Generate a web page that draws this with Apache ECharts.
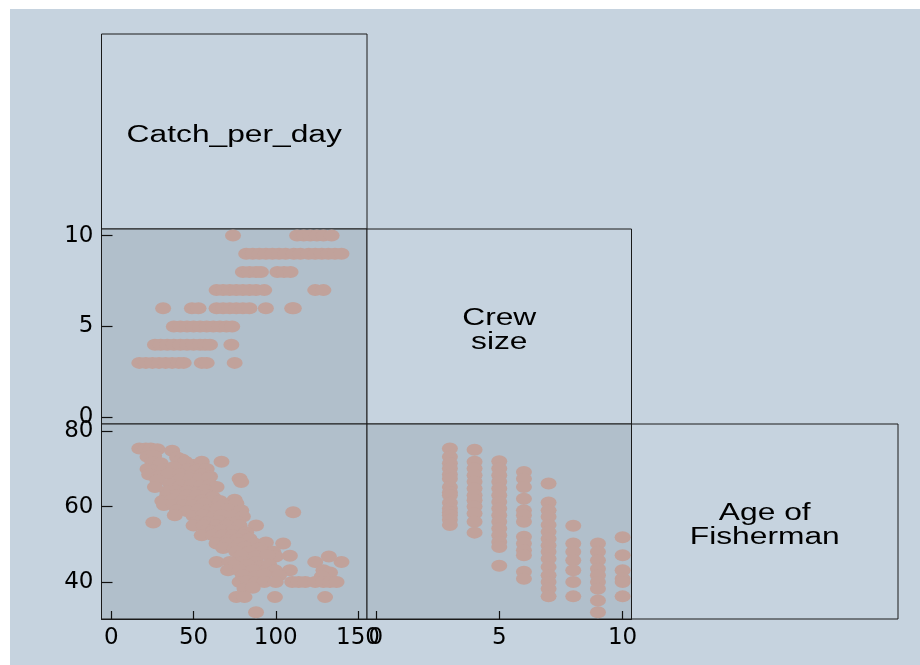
<!DOCTYPE html>
<html>
<head>
<meta charset="utf-8">
<script src="https://cdn.jsdelivr.net/npm/echarts@6/dist/echarts.min.js"></script>
<style>
  html, body { margin: 0; padding: 0; background: #fff; }
  #chart { position: absolute; left: 10px; top: 9px; width: 910px; height: 656px; }
</style>
</head>
<body>
<div id="chart"></div>
<script>
// variable names shown on the diagonal
const varLabels = ['Catch_per_day', 'Crew\nsize', 'Age of\nFisherman']

// tick values per variable
const catchTicks = [0, 50, 100, 150]
const crewTicks = [0, 5, 10]
const ageTicks = [40, 60, 80]

// [catch, crew]
const crewVsCatch = [
  [74, 10], [113, 10], [117, 10], [121, 10], [125, 10], [129, 10], [134, 10],
  [82, 9], [86, 9], [90, 9], [94, 9], [98, 9], [102, 9], [106, 9], [111, 9], [115, 9],
  [120, 9], [124, 9], [128, 9], [132, 9], [136, 9], [140, 9],
  [80, 8], [84, 8], [88, 8], [91, 8], [101, 8], [105, 8], [109, 8],
  [64, 7], [68, 7], [72, 7], [76, 7], [80, 7], [84, 7], [88, 7], [93, 7], [124, 7], [129, 7],
  [31.5, 6], [49, 6], [53, 6], [64, 6], [68, 6], [72, 6], [76, 6], [80, 6], [84, 6], [94, 6], [110, 6], [111, 6],
  [38, 5], [42, 5], [46, 5], [50, 5], [54, 5], [58, 5], [62, 5], [66, 5], [70, 5], [73.5, 5],
  [26.5, 4], [30, 4], [34, 4], [38, 4], [42, 4], [46, 4], [50, 4], [54, 4], [57, 4], [60, 4], [73, 4],
  [17, 3], [21, 3], [25, 3], [29, 3], [33, 3], [37, 3], [41, 3], [44, 3], [55, 3], [58, 3], [75, 3]
]

// [catch, age]
const ageVsCatch = [
  [17, 75.4], [21, 75.4], [24, 75.4], [28, 75.2], [37, 74.8],
  [22, 73.2], [26, 73.5], [40, 73], [43, 72.5],
  [25, 71.8], [30, 71.5], [45, 71.9], [50, 71], [55, 71.9], [67, 71.9],
  [22, 70], [26, 69.5], [32, 70], [38, 70.5], [47, 70], [52, 69.8], [58, 70],
  [23, 68.5], [29, 68], [35, 68.8], [42, 68.5], [48, 68.2], [55, 68.6], [60, 68],
  [28, 67], [42, 67.4], [48, 67.4], [54, 67.4], [59, 67.6], [78, 67.4], [79, 66.5],
  [36, 66], [42, 65.5], [49, 65.8], [55, 65.5], [60, 65.8], [26.5, 65.2], [64, 65.2],
  [34, 64], [40, 64.2], [46, 64], [52, 63.8], [57, 64.3],
  [34, 63], [40, 63], [46, 63], [52, 63], [58, 63], [62, 62.5],
  [31, 61.5], [37, 61.8], [43, 61.5], [49, 61.2], [55, 61.7], [60, 61.3], [66, 61.5], [75, 61.8],
  [32, 60.4], [38, 60.4], [44, 60.4], [50, 60.4], [56, 60.8], [68, 60.4], [76, 60.9],
  [40, 59], [46, 58.8], [53, 59.2], [59, 59], [64, 59], [71, 59.3], [79, 59], [110.6, 58.5],
  [38.6, 57.7], [50, 57.5], [56, 57.8], [62, 57.3], [67, 57.7], [74, 57.6], [80, 57.4],
  [25.5, 55.8], [52, 56], [58, 55.8], [65, 56.2], [72, 55.6], [77, 56],
  [50, 55], [56, 55], [64, 55], [70, 55], [78, 55], [88, 55],
  [58, 53.7], [62, 53.5], [67, 53.8], [74, 53.5], [82, 53.2],
  [55, 52.4], [62, 52.4], [68, 52.4], [74, 52.4], [80, 52.4],
  [65, 51.2], [71, 51], [77, 51.3], [84, 51.5],
  [64, 50.2], [70, 50.2], [78, 50.2], [87, 50.2], [94, 50.5], [104.5, 50.2],
  [68, 49], [75, 48.8], [81, 49.2], [90, 49],
  [76, 48], [84, 48], [92, 48], [98.5, 48], [100, 46.8], [108.6, 47],
  [79, 47], [88, 46.8], [95, 47.2],
  [64, 45.3], [72, 45.3], [80, 45.3], [88, 45.3], [124, 45.3], [140, 45.3], [132.3, 46.8],
  [75, 44.3], [83, 44.5], [91, 44.2], [96, 44.6],
  [71, 43.1], [78, 43.1], [86, 43.1], [94.4, 43.1], [99.5, 43.1], [108.6, 43.1], [129, 43.1], [133, 42.5],
  [80, 41.8], [88, 41.5], [93, 42], [102, 41.8], [128, 41.5],
  [78, 40], [83, 40.3], [88, 40], [93, 40], [100, 40], [110, 40], [114, 40], [118, 40],
  [124, 40], [129, 40], [133, 40], [137, 40],
  [81, 38.2], [86, 38.5],
  [76, 36], [81, 36], [99.5, 36], [130, 36],
  [88, 32]
]

// [crew, age]
const ageVsCrew = [
  [3, 75.4], [3, 73.2], [3, 71.5], [3, 70.1], [3, 68.5], [3, 67.4], [3, 65.2], [3, 63.8],
  [3, 63], [3, 61], [3, 59.5], [3, 58.5], [3, 57.7], [3, 56.5], [3, 55.1],
  [4, 75.1], [4, 71.9], [4, 70.1], [4, 68.3], [4, 66.6], [4, 64.8], [4, 63], [4, 61.7],
  [4, 60], [4, 58.2], [4, 56], [4, 53.1],
  [5, 72], [5, 70.1], [5, 68.3], [5, 66.6], [5, 64.8], [5, 63], [5, 61.2], [5, 59.5],
  [5, 57.7], [5, 56], [5, 54.2], [5, 52.4], [5, 50.6], [5, 49.3], [5, 44.3],
  [6, 69.2], [6, 67.4], [6, 65.2], [6, 62.1], [6, 59], [6, 57.7], [6, 56],
  [6, 52], [6, 50.2], [6, 48.4], [6, 47.1], [6, 42.7], [6, 40.9],
  [7, 66.1], [7, 61.1], [7, 59], [7, 57.3], [7, 55.1], [7, 53.3], [7, 51.5], [7, 49.7],
  [7, 48], [7, 46.2], [7, 44], [7, 41.8], [7, 40], [7, 38.2], [7, 36.2],
  [8, 54.9], [8, 50.2], [8, 48], [8, 45.8], [8, 43.1], [8, 40], [8, 36.2],
  [9, 50.2], [9, 48], [9, 45.8], [9, 43.5], [9, 41.8], [9, 40], [9, 38.2], [9, 35.1], [9, 32],
  [10, 51.9], [10, 47.1], [10, 43.1], [10, 40.9], [10, 40], [10, 36.2]
]

const PAGE_BG = '#c6d3df'
const PLOT_BG = '#b1bfcb'
const MARKER = '#c1a29b'
const FRAME = '#1a1a1a'

// panel layout (px inside the chart div)
const colLeft = [91.5, 357, 621.5]
const colWidth = [265.5, 264.5, 266.5]
const rowTop = [25, 220, 415]
const rowHeight = 195

const panel = (r, c) => ({
  left: colLeft[c],
  top: rowTop[r],
  width: colWidth[c],
  height: rowHeight,
  show: true,
  backgroundColor: r === c ? PAGE_BG : PLOT_BG,
  borderColor: FRAME,
  borderWidth: 1
})

const ranges = {
  catch: { min: -6, max: 155.5, ticks: catchTicks },
  crew: { min: -0.36, max: 10.36, ticks: crewTicks },
  age: { min: 30.2, max: 81.9, ticks: ageTicks }
}

const axis = (gridIndex, key, showLabels, tickLen) => ({
  type: 'value',
  gridIndex,
  min: ranges[key].min,
  max: ranges[key].max,
  axisLine: { show: showLabels, onZero: false, lineStyle: { color: FRAME, width: 1 } },
  splitLine: { show: false },
  axisTick: {
    show: showLabels,
    inside: true,
    length: tickLen,
    customValues: ranges[key].ticks,
    lineStyle: { color: '#111', width: 1.2 }
  },
  axisLabel: {
    show: showLabels,
    customValues: ranges[key].ticks,
    margin: 8,
    color: '#000',
    fontSize: 23,
    fontFamily: 'DejaVu Sans'
  }
})

const diagText = (r, text) => ({
  type: 'text',
  x: colLeft[r] + colWidth[r] / 2,
  y: rowTop[r] + rowHeight / 2 + 4,
  scaleX: 1.38,
  silent: true,
  style: {
    text,
    align: 'center',
    verticalAlign: 'middle',
    fontSize: 23,
    lineHeight: 24,
    fontFamily: 'Liberation Sans',
    fill: '#000'
  }
})

const chart = echarts.init(document.getElementById('chart'))

chart.setOption({
  backgroundColor: PAGE_BG,
  animation: false,
  grid: [panel(0, 0), panel(1, 0), panel(1, 1), panel(2, 0), panel(2, 1), panel(2, 2)],
  xAxis: [
    axis(1, 'catch', false, 8),
    axis(3, 'catch', true, 8),
    axis(4, 'crew', true, 8)
  ],
  yAxis: [
    axis(1, 'crew', true, 11),
    axis(3, 'age', true, 11),
    axis(4, 'age', false, 11)
  ],
  graphic: varLabels.map((t, i) => diagText(i, t)),
  series: [
    [crewVsCatch, 0],
    [ageVsCatch, 1],
    [ageVsCrew, 2]
  ].map(([data, idx]) => ({
    type: 'scatter',
    xAxisIndex: idx,
    yAxisIndex: idx,
    data,
    symbol: 'circle',
    symbolSize: [16, 12],
    silent: true,
    itemStyle: { color: MARKER, opacity: 1 }
  }))
})
</script>
</body>
</html>
